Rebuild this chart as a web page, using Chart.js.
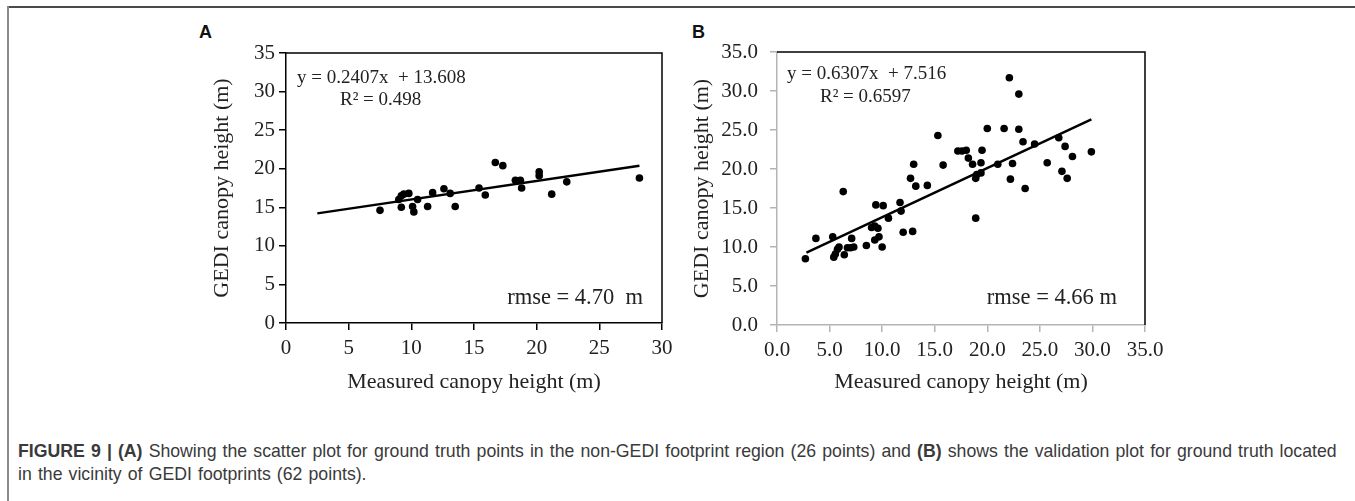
<!DOCTYPE html>
<html>
<head>
<meta charset="utf-8">
<script src="https://cdn.jsdelivr.net/npm/chart.js@4.4.1/dist/chart.umd.min.js"></script>
<style>
    body { margin: 0; background: #fff; width: 1355px; height: 501px; overflow: hidden; position: relative; font-family: "Liberation Sans", Arial, sans-serif; }
    .frame-top { position: absolute; left: 7px; top: 6px; right: 0; height: 2px; background: #4a4a4a; }
    .frame-left { position: absolute; left: 7px; top: 6px; bottom: 0; width: 2px; background: #8a8a8a; }
    .panel-label { position: absolute; top: 22px; font-weight: bold; font-size: 18px; color: #111; }
    #chartA { position: absolute; left: 180px; top: 0; }
    #chartB { position: absolute; left: 670px; top: 0; }
    .caption { position: absolute; left: 18px; top: 440px; font-size: 17.7px; word-spacing: 1.2px; line-height: 23px; color: #3a3a3a; white-space: nowrap; }
</style>
</head>
<body>
<div class="frame-top"></div>
<div class="frame-left"></div>
<div class="panel-label" style="left:199px">A</div>
<div class="panel-label" style="left:692px">B</div>
<canvas id="chartA" width="500" height="400"></canvas>
<canvas id="chartB" width="530" height="400"></canvas>
<div class="caption"><b>FIGURE 9 | (A)</b> Showing the scatter plot for ground truth points in the non-GEDI footprint region (26 points) and <b>(B)</b> shows the validation plot for ground truth located<br>in the vicinity of GEDI footprints (62 points).</div>

<script>
// panel A - non-GEDI footprint region (26 points)
const measuredA = [7.5, 9.0, 9.2, 9.4, 9.8, 9.2, 10.1, 10.2, 10.5, 11.3, 11.7, 12.6, 13.1, 13.5,
    15.4, 15.9, 16.7, 17.3, 18.3, 18.7, 18.8, 20.2, 20.2, 21.2, 22.4, 28.2];
const gediA = [14.6, 16.0, 16.5, 16.7, 16.8, 15.0, 15.1, 14.4, 16.0, 15.1, 16.9, 17.4, 16.8, 15.1,
    17.5, 16.6, 20.8, 20.4, 18.5, 18.5, 17.5, 19.6, 19.1, 16.7, 18.3, 18.8];

// panel B - vicinity of GEDI footprints (62 points)
const measuredB = [2.7, 3.7, 5.3, 5.4, 5.55, 5.75, 5.9, 6.3, 6.4, 6.7, 7.0, 7.3, 7.1, 8.5, 9.0, 9.3,
    9.6, 9.3, 9.7, 9.4, 10.1, 10.0, 10.6, 11.7, 11.8, 12.0, 12.9, 12.7, 13.0, 13.2, 14.3, 15.3,
    15.8, 17.2, 17.6, 18.0, 18.2, 18.6, 18.9, 19.0, 19.4, 19.4, 19.5, 18.9, 20.0, 21.0, 21.6,
    22.1, 22.2, 22.4, 23.0, 23.0, 23.4, 23.6, 24.5, 25.7, 26.8, 27.1, 27.4, 27.6, 28.1, 29.9];
const gediB = [8.5, 11.1, 11.3, 8.7, 9.1, 9.7, 10.0, 17.1, 9.0, 9.9, 9.9, 10.0, 11.1, 10.2, 12.5, 12.7,
    12.4, 10.9, 11.3, 15.4, 15.3, 10.0, 13.7, 15.7, 14.6, 11.9, 12.0, 18.8, 20.6, 17.8, 17.9, 24.3,
    20.5, 22.3, 22.3, 22.4, 21.4, 20.6, 18.8, 19.3, 19.5, 20.8, 22.4, 13.7, 25.2, 20.6, 25.2,
    31.7, 18.7, 20.7, 29.6, 25.1, 23.5, 17.5, 23.2, 20.8, 24.0, 19.7, 22.9, 18.8, 21.6, 22.2];

// fitted lines as printed on the figure: slope, intercept, x range of the drawn line
const fitA = [0.2407, 13.608];
const fitRangeA = [2.5, 28.2];
const fitB = [0.6307, 7.516];
const fitRangeB = [2.8, 29.9];

const ticksA = [0, 5, 10, 15, 20, 25, 30, 35];
const ticksB = ['0.0', '5.0', '10.0', '15.0', '20.0', '25.0', '30.0', '35.0'];

const serif = 'Liberation Serif';

const toPoints = (xs, ys) => xs.map((x, i) => ({ x: x, y: ys[i] }));
const fitLine = (fit, range) => range.map(x => ({ x: x, y: fit[0] * x + fit[1] }));

// box on top/right of plot area + the equation / rmse texts
const boxNotes = {
    id: 'boxNotes',
    afterDraw(chart, args, opts) {
        const { ctx, chartArea: a } = chart;
        ctx.save();
        ctx.strokeStyle = '#000';
        ctx.lineWidth = 1.5;
        ctx.beginPath();
        ctx.moveTo(a.left, a.top);
        ctx.lineTo(a.right, a.top);
        ctx.lineTo(a.right, a.bottom);
        ctx.stroke();

        ctx.fillStyle = '#222';
        ctx.font = '19px "' + serif + '"';
        ctx.textBaseline = 'middle';
        ctx.textAlign = 'left';
        ctx.fillText(opts.equation, a.left + opts.eq[0], a.top + opts.eq[1]);
        ctx.fillText(opts.r2, a.left + opts.r2Pos[0], a.top + opts.r2Pos[1]);
        ctx.textAlign = 'right';
        ctx.font = '22.5px "' + serif + '"';
        ctx.fillText(opts.rmse, a.right - opts.rmsePos[0], a.bottom - opts.rmsePos[1]);
        ctx.restore();
    }
};

function axis(max, ticks, lineColor, size, padding, title, fmt) {
    return {
        type: 'linear',
        min: 0,
        max: max,
        afterBuildTicks: s => { s.ticks = ticks.map(v => ({ value: +v })); },
        afterFit: s => { if (s.isHorizontal()) s.height = size; else s.width = size; },
        ticks: {
            color: '#222',
            padding: padding,
            font: { family: serif, size: 21 },
            callback: fmt
        },
        grid: { drawOnChartArea: false, drawTicks: true, tickLength: 7, color: lineColor, lineWidth: 1.5 },
        border: { display: true, color: lineColor, width: 1.5 },
        title: { display: true, text: title, color: '#222', font: { family: serif, size: 22 } }
    };
}

function scatterConfig(xs, ys, fit, range, scales, padding, notes) {
    return {
        type: 'scatter',
        data: {
            datasets: [
                {
                    data: toPoints(xs, ys),
                    backgroundColor: '#000',
                    borderWidth: 0,
                    pointRadius: 3.8
                },
                {
                    type: 'line',
                    data: fitLine(fit, range),
                    borderColor: '#000',
                    borderWidth: 2.5,
                    pointRadius: 0,
                    fill: false
                }
            ]
        },
        options: {
            responsive: false,
            animation: false,
            layout: { padding: padding },
            plugins: {
                legend: { display: false },
                tooltip: { enabled: false },
                boxNotes: notes
            },
            scales: scales
        },
        plugins: [boxNotes]
    };
}

document.addEventListener('DOMContentLoaded', () => {

    new Chart(document.getElementById('chartA').getContext('2d'), scatterConfig(
        measuredA, gediA, fitA, fitRangeA,
        {
            x: axis(30, ticksA.slice(0, 7), '#000', 76, 6, 'Measured canopy height (m)', v => v),
            y: axis(35, ticksA, '#000', 81, 4, 'GEDI canopy height (m)', v => v)
        },
        { left: 25, top: 53, right: 18, bottom: 1 },
        { equation: 'y = 0.2407x  + 13.608', r2: 'R² = 0.498', rmse: 'rmse = 4.70  m',
          eq: [11, 25], r2Pos: [54, 47], rmsePos: [19, 25] }
    ));

    new Chart(document.getElementById('chartB').getContext('2d'), scatterConfig(
        measuredB, gediB, fitB, fitRangeB,
        {
            x: axis(35, ticksB, '#b4b4b4', 74, 6, 'Measured canopy height (m)', v => v.toFixed(1)),
            y: axis(35, ticksB, '#b4b4b4', 92, 12, 'GEDI canopy height (m)', v => v.toFixed(1))
        },
        { left: 15, top: 52, right: 55, bottom: 1 },
        { equation: 'y = 0.6307x  + 7.516', r2: 'R² = 0.6597', rmse: 'rmse = 4.66 m',
          eq: [10, 22], r2Pos: [43, 45], rmsePos: [28, 27] }
    ));

});
</script>
</body>
</html>
